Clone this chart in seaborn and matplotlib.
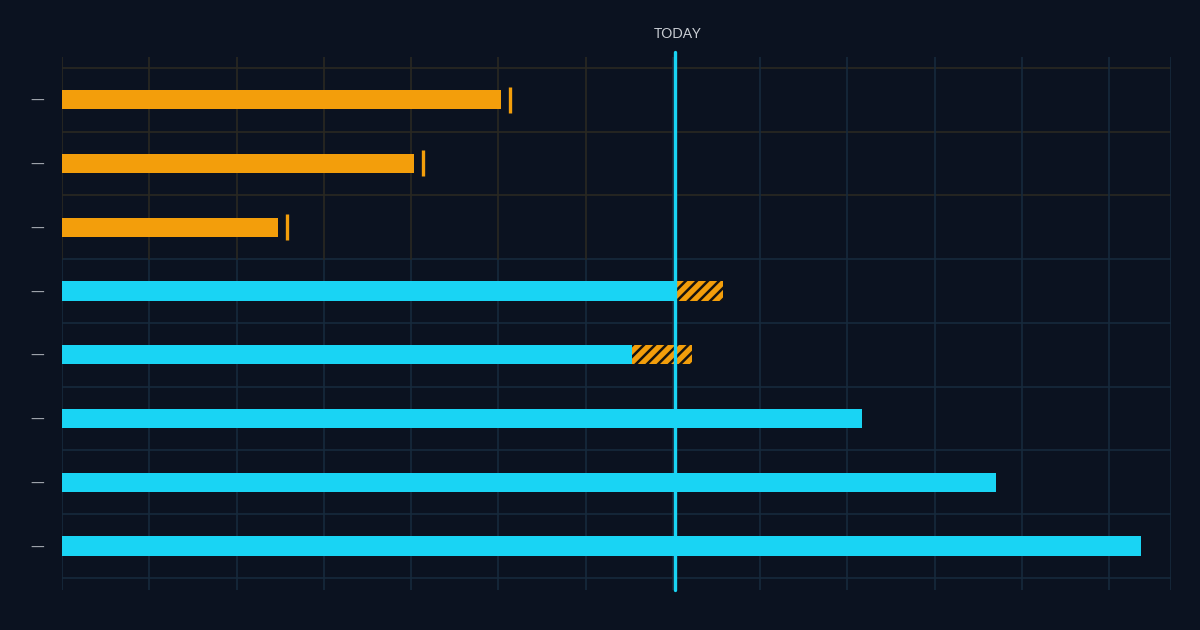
import matplotlib
matplotlib.use("Agg")
import matplotlib.pyplot as plt
import matplotlib.transforms as mtransforms
import seaborn as sns
import pandas as pd
import numpy as np

# ---- data ----
tasks = ["T1", "T2", "T3", "T4", "T5", "T6", "T7", "T8"]
progress = [5.03, 4.03, 2.48, 7.03, 6.53, 9.17, 10.70, 12.37]
status = ["done", "done", "done", "active", "active", "active", "active", "active"]
deadline_tasks = ["T1", "T2", "T3"]
deadline_values = [5.13, 4.14, 2.58]
overrun_tasks = ["T4", "T5"]
overrun_start = [7.03, 6.53]
overrun_end = [7.58, 7.22]
today = 7.03
tick_labels = ["—"] * 8
x_ticks = list(range(0, 13))

BG = "#0b1220"
CYAN = "#19d4f4"
ORANGE = "#f39e0b"
GRID = "#172a3c"
GRID_WARM = "#2a2822"

sns.set_theme(style="dark")
plt.rcParams["hatch.linewidth"] = 1.8

fig = plt.figure(figsize=(12, 6.3), dpi=100, facecolor=BG)
ax = fig.add_axes([62 / 1200, 1 - 590 / 630, (1171 - 62) / 1200, (590 - 57) / 630])
ax.set_facecolor(BG)

df = pd.DataFrame({"task": tasks, "progress": progress, "status": status})
sns.barplot(data=df, y="task", x="progress", hue="status",
            palette={"done": ORANGE, "active": CYAN}, orient="h",
            width=0.3, dodge=False, legend=False, ax=ax, saturation=1,
            linewidth=0, zorder=3)

# overrun hatched segments
ov_y = [tasks.index(t) for t in overrun_tasks]
ax.barh(ov_y, np.array(overrun_end) - np.array(overrun_start), left=overrun_start,
        height=0.3, color=ORANGE, edgecolor="#17130e", hatch="///", linewidth=0, zorder=3)

# deadline markers
dl_y = [tasks.index(t) for t in deadline_tasks]
ax.scatter(deadline_values, dl_y, marker="|", s=330, linewidths=2.4, color=ORANGE, zorder=4)

# grid (warm tint near the finished rows, cool elsewhere)
ymin_, ymax_ = 7.69, -0.67
for i in range(len(tasks) + 1):
    c = GRID_WARM if i <= 2 else GRID
    ax.axhline(i - 0.5, color=c, lw=1.2, zorder=1)
split = (ymin_ - 2.5) / (ymin_ - ymax_)
for xv in x_ticks:
    ax.axvline(xv, ymin=0, ymax=split, color=GRID, lw=1.2, zorder=1)
    ax.axvline(xv, ymin=split, ymax=1, color=GRID_WARM if xv <= 6 else GRID, lw=1.2, zorder=1)
ax.axvline(12.71, color=GRID, lw=1.2, zorder=1)

# today line
ax.axvline(today, ymin=0, ymax=1.01, color=CYAN, lw=2.4, zorder=5, clip_on=False)
trans = mtransforms.blended_transform_factory(ax.transData, fig.transFigure)
ax.text(today + 0.03, 1 - 34 / 630, "TODAY", transform=trans, ha="center", va="center",
        color="#c9cdd3", fontsize=10, family="Lato")

ax.set_xlim(0, 12.71)
ax.set_ylim(ymin_, ymax_)
ax.set_xticks([])
ax.set_yticks(range(len(tasks)))
ax.set_yticklabels(tick_labels, color="#a4a9b0", fontsize=10)
ax.tick_params(axis="y", length=0, pad=13)
ax.set_xlabel("")
ax.set_ylabel("")
ax.grid(False)
for s in ax.spines.values():
    s.set_visible(False)

fig.savefig("out.png", dpi=100, facecolor=BG)
